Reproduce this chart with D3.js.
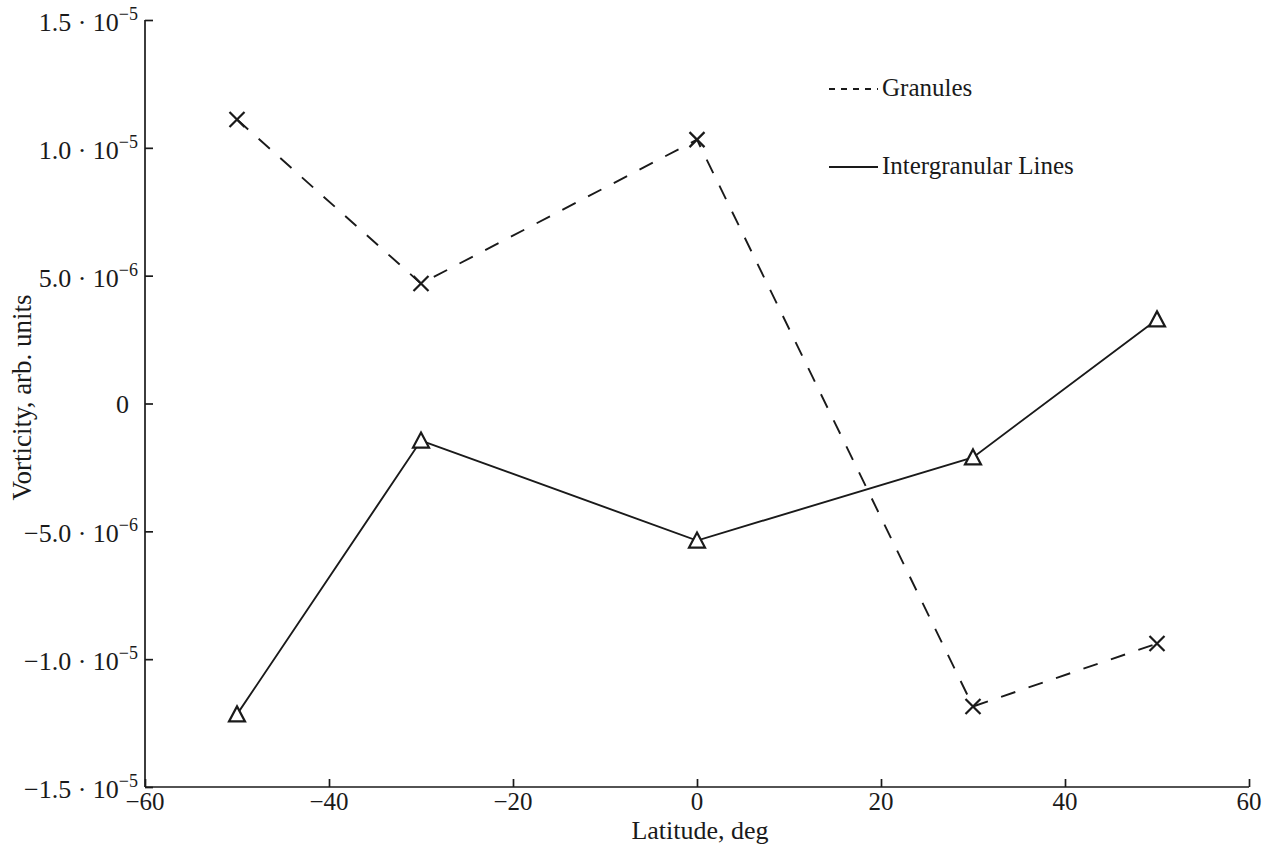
<!DOCTYPE html>
<html>
<head>
<meta charset="utf-8">
<script src="https://cdn.jsdelivr.net/npm/d3@7"></script>
<style>
  body { margin: 0; background: #fff; }
  svg { display: block; }
  text { font-family: "Liberation Serif", "Times New Roman", serif; fill: #1a1a1a; }
</style>
</head>
<body>
<svg id="chart" width="1269" height="846"></svg>
<script>
// ---- data ----
const latitudes = [-50, -30, 0, 30, 50];
const granules = [1.111e-5, 4.69e-6, 1.032e-5, -1.185e-5, -9.39e-6];
const intergranular = [-1.216e-5, -1.45e-6, -5.36e-6, -2.11e-6, 3.29e-6];
const seriesNames = ["Granules", "Intergranular Lines"];

const xTicks = [-60, -40, -20, 0, 20, 40, 60];
const xTickLabels = ["\u221260", "\u221240", "\u221220", "0", "20", "40", "60"];
const yTicks = [1.5e-5, 1.0e-5, 5e-6, 0, -5e-6, -1.0e-5, -1.5e-5];
const yTickMantissa = ["1.5", "1.0", "5.0", "0", "\u22125.0", "\u22121.0", "\u22121.5"];
const yTickExponent = ["\u22125", "\u22125", "\u22126", "", "\u22126", "\u22125", "\u22125"];

// ---- layout ----
const svg = d3.select("#chart");
const x = d3.scaleLinear().domain([-60, 60]).range([145, 1249]);
const y = d3.scaleLinear().domain([-1.5e-5, 1.5e-5]).range([787, 20]);
const ink = "#1a1a1a";
const fs = 26;

// axes
const yAxis = d3.axisLeft(y).tickValues(yTicks).tickSize(-8).tickFormat("");
const gy = svg.append("g").attr("transform", `translate(${x(-60)},0)`).call(yAxis);
const xAxis = d3.axisBottom(x).tickValues(xTicks).tickSize(-8).tickFormat("");
const gx = svg.append("g").attr("transform", `translate(0,${y(-1.5e-5)})`).call(xAxis);
[gx, gy].forEach(g => {
  g.select(".domain").attr("stroke", ink).attr("stroke-width", 1.7);
  g.selectAll(".tick line").attr("stroke", ink).attr("stroke-width", 1.7);
});
gy.select(".domain").attr("d", `M0,${y(1.5e-5)}H0V${y(-1.5e-5)}`);
gx.select(".domain").attr("d", `M${x(-60)},0H${x(60)}`);

// y tick labels
yTicks.forEach((v, i) => {
  const t = svg.append("text")
    .attr("x", 138).attr("y", y(v) + 11)
    .attr("text-anchor", "end")
    .attr("font-size", fs);
  if (yTickExponent[i]) {
    t.append("tspan").text(yTickMantissa[i] + " \u00B7 10");
    t.append("tspan").attr("dy", -11).attr("font-size", 18).text(yTickExponent[i]);
  } else {
    t.attr("x", 129).attr("y", y(v) + 9).text(yTickMantissa[i]);
  }
});

// x tick labels
xTicks.forEach((v, i) => {
  svg.append("text")
    .attr("x", x(v)).attr("y", 810)
    .attr("text-anchor", "middle")
    .attr("font-size", 25)
    .text(xTickLabels[i]);
});

// axis titles
svg.append("text")
  .attr("x", x(0) + 3).attr("y", 839)
  .attr("text-anchor", "middle").attr("font-size", 26)
  .text("Latitude, deg");
svg.append("text")
  .attr("transform", `translate(31,${y(0) - 6}) rotate(-90)`)
  .attr("text-anchor", "middle").attr("font-size", 27)
  .text("Vorticity, arb. units");

// series
const line = d3.line().x(d => x(d[0])).y(d => y(d[1]));
const gData = latitudes.map((l, i) => [l, granules[i]]);
const iData = latitudes.map((l, i) => [l, intergranular[i]]);

svg.append("path").datum(gData).attr("d", line)
  .attr("fill", "none").attr("stroke", ink).attr("stroke-width", 1.9)
  .attr("stroke-dasharray", "15,14");
svg.append("path").datum(iData).attr("d", line)
  .attr("fill", "none").attr("stroke", ink).attr("stroke-width", 1.9);

// x markers
const s = 7.5;
svg.selectAll(".xm").data(gData).enter().append("path")
  .attr("d", d => {
    const cx = x(d[0]), cy = y(d[1]);
    return `M${cx - s},${cy - s}L${cx + s},${cy + s}M${cx - s},${cy + s}L${cx + s},${cy - s}`;
  })
  .attr("stroke", ink).attr("stroke-width", 2.2).attr("fill", "none");

// triangle markers
svg.selectAll(".tm").data(iData).enter().append("path")
  .attr("d", d => {
    const cx = x(d[0]), cy = y(d[1]);
    return `M${cx},${cy - 8}L${cx + 8},${cy + 7}L${cx - 8},${cy + 7}Z`;
  })
  .attr("stroke", ink).attr("stroke-width", 2.2).attr("fill", "#fff");

// legend
const legend = [
  { name: seriesNames[0], dash: "6,6", yy: 89 },
  { name: seriesNames[1], dash: null, yy: 167 }
];
legend.forEach(l => {
  svg.append("line")
    .attr("x1", 829).attr("x2", 878).attr("y1", l.yy).attr("y2", l.yy)
    .attr("stroke", ink).attr("stroke-width", 1.8)
    .attr("stroke-dasharray", l.dash);
  svg.append("text")
    .attr("x", 882).attr("y", l.yy + 7)
    .attr("font-size", 25)
    .text(l.name);
});
</script>
</body>
</html>
